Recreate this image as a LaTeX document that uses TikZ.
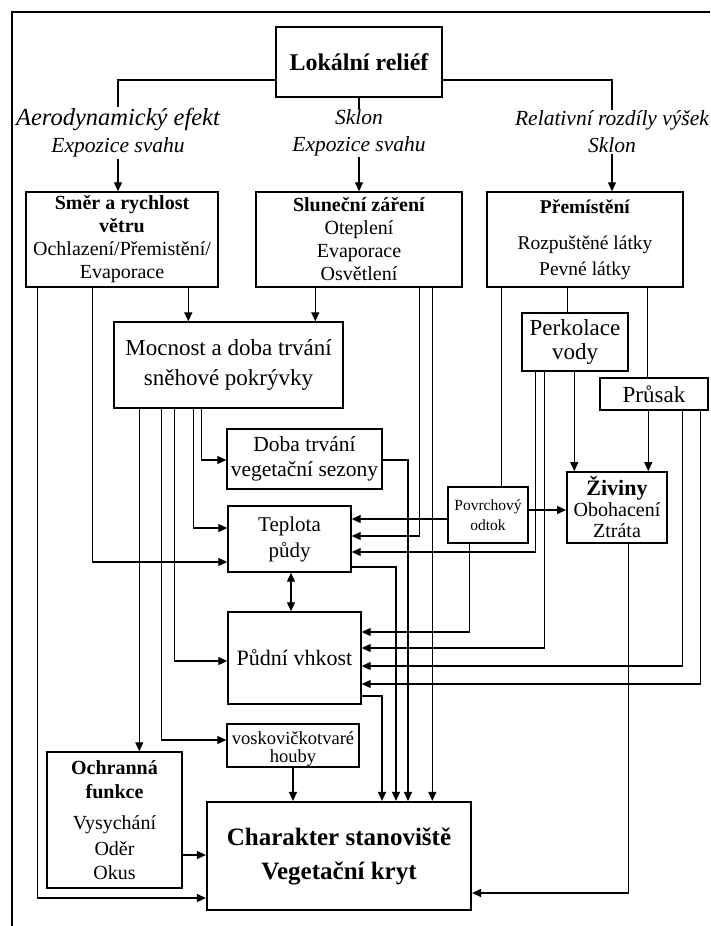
\documentclass[tikz,border=0pt]{standalone}
\usepackage{fontspec}
\setmainfont{Liberation Serif}
\usetikzlibrary{arrows.meta}
\newcommand\mysz[2]{\fontsize{#1}{#2}\selectfont}
\begin{document}
\begin{tikzpicture}[x=1pt,y=-1pt,
  box/.style={draw, line width=1.4pt, inner sep=0pt, align=center, anchor=center},
  ln/.style={line width=1.2pt},
  arr/.style={ln, -{Triangle[length=9pt,width=8pt]}},
  dbl/.style={ln, {Triangle[length=9pt,width=8pt]}-{Triangle[length=9pt,width=8pt]}},
  lbl/.style={inner sep=1pt, align=center, font={\mysz{21.5}{27}\itshape}}]
\useasboundingbox (0,0) rectangle (710,926);
\fill[white] (0,0) rectangle (710,926);
% frame
\draw[line width=2pt] (12,926) -- (12,12) -- (710,12);

% nodes
\node[box, line width=2.2pt, minimum width=166pt, minimum height=70pt, font={\mysz{24}{28}\bfseries}] (lok) at (359,62) {Lokální reliéf};
\node[lbl] (aero) at (118,133) {{\mysz{24.5}{27}Aerodynamický efekt}\\Expozice svahu};
\node[lbl] (sklon) at (359,133) {Sklon\\Expozice svahu};
\node[lbl] (rel) at (612,132) {Relativní rozdíly výšek\\Sklon};

\node[box, minimum width=192pt, minimum height=95pt, font={\mysz{20}{23}}] (smer) at (122,239.5) {\textbf{Směr a rychlost}\\\textbf{větru}\\Ochlazení/Přemistění/\\Evaporace};
\node[box, minimum width=206pt, minimum height=95pt, font={\mysz{20}{23}}] (slun) at (359,239.5) {\textbf{Sluneční záření}\\Oteplení\\Evaporace\\Osvětlení};
\node[box, minimum width=196pt, minimum height=95pt, font={\mysz{19.5}{26}}] (prem) at (585,239.5) {\textbf{Přemístění}\\[10pt]Rozpuštěné látky\\Pevné látky};

\node[box, minimum width=229pt, minimum height=86pt, font={\mysz{23}{30}}] (moc) at (228.5,365) {Mocnost a doba trvání\\sněhové pokrývky};
\node[box, minimum width=155pt, minimum height=60pt, font={\mysz{21.5}{25}}] (doba) at (304.5,459) {Doba trvání\\vegetační sezony};
\node[box, minimum width=123pt, minimum height=66pt, font={\mysz{21}{26}}] (tep) at (289.5,539) {Teplota\\půdy};
\node[box, minimum width=133pt, minimum height=92pt, font={\mysz{22}{26}}] (pud) at (294.5,658) {Půdní vhkost};
\node[box, minimum width=132pt, minimum height=43pt] (vosk) at (293,745.5) {};
\node[inner sep=0pt, align=center, font={\mysz{18.5}{18}}] (voskt) at (293,749) {voskovičkotvaré\\houby};
\node[box, minimum width=135pt, minimum height=136pt, font={\mysz{20}{24}}] (och) at (114.5,820) {\textbf{Ochranná}\\\textbf{funkce}\\[7pt]Vysychání\\[2pt]Oděr\\Okus};
\node[box, line width=2.2pt, minimum width=264pt, minimum height=108pt, font={\mysz{25}{34}\bfseries}] (char) at (339,856) {Charakter stanoviště\\Vegetační kryt};
\node[box, minimum width=106pt, minimum height=58pt, font={\mysz{23}{24}}] (perk) at (575,342) {Perkolace\\vody};
\node[box, minimum width=108pt, minimum height=32pt, font={\mysz{23}{26}}] (prus) at (654,394) {Průsak};
\node[box, minimum width=80pt, minimum height=56pt, font={\mysz{15.5}{20}}] (povr) at (488,515) {Povrchový\\odtok};
\node[box, line width=1.8pt, minimum width=100pt, minimum height=71pt, font={\mysz{20}{21}}] (ziv) at (617,507.5) {{\mysz{22}{21}\bfseries Živiny}\\Obohacení\\Ztráta};

% top connectors
\draw[ln] ([yshift=-18pt]lok.west) -| (aero.north);
\draw[ln] (lok.south) -- (sklon.north);
\draw[ln] ([yshift=-18pt]lok.east) -| (rel.north);
\draw[arr] (aero.south) -- (aero.south |- smer.north);
\draw[arr] (sklon.south) -- (sklon.south |- slun.north);
\draw[arr] (rel.south) -- (rel.south |- prem.north);

% from Smer
\draw[arr] ([xshift=12pt]smer.south west) |- ([yshift=-42pt]char.west);
\draw[arr] ([xshift=67pt]smer.south west) |- ([yshift=-23pt]tep.west);
\draw[arr] ([xshift=163pt]smer.south west) coordinate (t) -- (t |- moc.north);

% from Slunecni
\draw[arr] ([xshift=60pt]slun.south west) coordinate (t) -- (t |- moc.north);
\draw[arr] ([xshift=164pt]slun.south west) |- ([yshift=3pt]tep.east);
\draw[arr] ([xshift=177pt]slun.south west) coordinate (t) -- (t |- char.north);

% from Premisteni
\draw[ln] ([xshift=15pt]prem.south west) coordinate (t) -- (t |- povr.north);
\draw[ln] ([xshift=81pt]prem.south west) coordinate (t) -- (t |- perk.north);
\draw[ln] ([xshift=161pt]prem.south west) coordinate (t) -- (t |- prus.north);

% from Perkolace
\draw[arr] ([xshift=14pt]perk.south west) |- ([yshift=-13pt]tep.east);
\draw[arr] ([xshift=23pt]perk.south west) |- ([yshift=10pt]pud.east);
\draw[arr] ([xshift=53pt]perk.south west) coordinate (t) -- (t |- ziv.north);

% from Prusak
\draw[arr] ([xshift=49pt]prus.south west) coordinate (t) -- (t |- ziv.north);
\draw[arr] ([xshift=83pt]prus.south west) |- ([yshift=-8pt]pud.east);
\draw[arr] ([xshift=101pt]prus.south west) |- ([yshift=-26pt]pud.east);

% from Povrchovy odtok
\draw[arr] ([yshift=-4pt]povr.west) coordinate (t) -- (t -| tep.east);
\draw[arr] ([yshift=5pt]povr.east) coordinate (t) -- (t -| ziv.west);
\draw[arr] ([xshift=22pt]povr.south west) |- ([yshift=26pt]pud.east);

% from Ziviny
\draw[arr] ([xshift=62pt]ziv.south west) |- ([yshift=-37pt]char.east);

% from Mocnost
\draw[arr] ([xshift=26pt]moc.south west) coordinate (t) -- (t |- och.north);
\draw[arr] ([xshift=48pt]moc.south west) |- ([yshift=5.5pt]vosk.west);
\draw[arr] ([xshift=61pt]moc.south west) |- ([yshift=-3pt]pud.west);
\draw[arr] ([xshift=80pt]moc.south west) |- ([yshift=11pt]tep.west);
\draw[arr] ([xshift=88pt]moc.south west) |- ([yshift=-1pt]doba.west);

% to Charakter
\draw[arr] ([yshift=-1pt]doba.east) -| ([xshift=69pt]char.north);
\draw[arr] ([yshift=-28pt]tep.east) -| ([xshift=57pt]char.north);
\draw[arr] ([yshift=-38pt]pud.east) -| ([xshift=43pt]char.north);
\draw[arr] (vosk.south) -- (vosk.south |- char.north);
\draw[arr] ([yshift=-35pt]och.east) coordinate (t) -- (t -| char.west);

% Teplota <-> Pudni vhkost
\draw[dbl] ([xshift=1.5pt]tep.south) coordinate (t) -- (t |- pud.north);
\end{tikzpicture}
\end{document}
